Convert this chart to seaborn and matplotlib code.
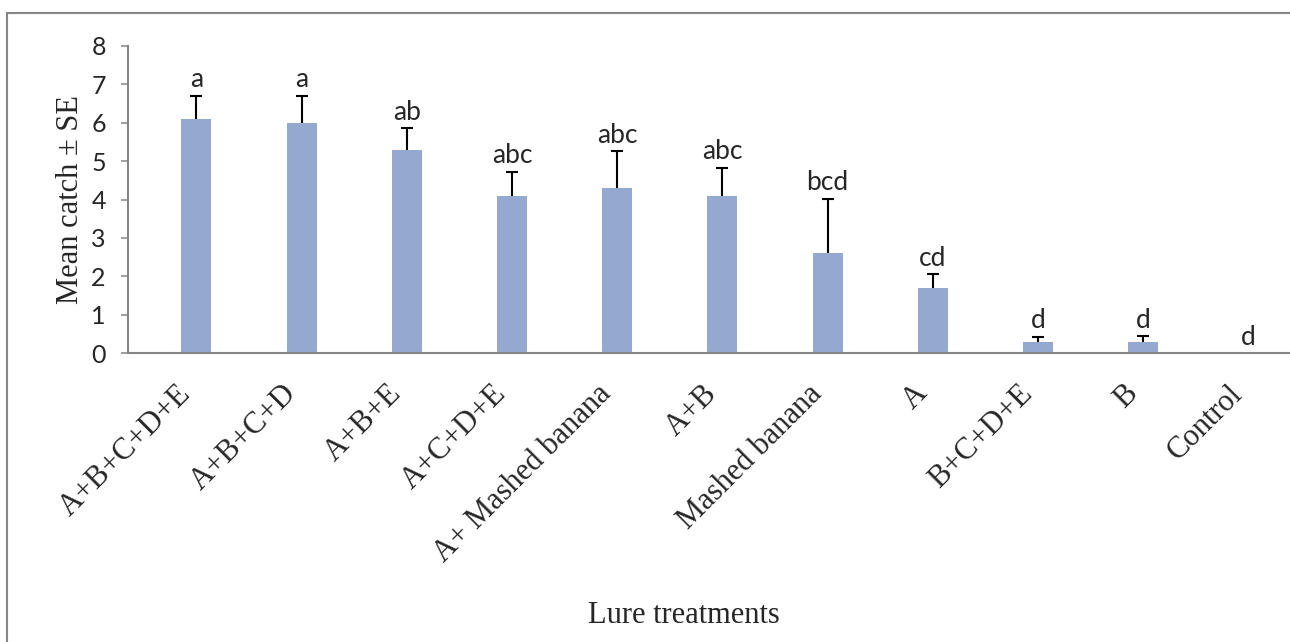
import numpy as np
import pandas as pd
import matplotlib
matplotlib.use("Agg")
import matplotlib.pyplot as plt
import matplotlib.transforms as mtransforms
from matplotlib.lines import Line2D
import seaborn as sns

# Lure treatments and trap catches (mean and standard error)
treatments = ["A+B+C+D+E", "A+B+C+D", "A+B+E", "A+C+D+E", "A+ Mashed banana",
              "A+B", "Mashed banana", "A", "B+C+D+E", "B", "Control"]
mean_catch = [6.1, 6.0, 5.3, 4.1, 4.3, 4.1, 2.6, 1.7, 0.3, 0.3, 0.0]
se_catch = [0.6, 0.7, 0.55, 0.62, 0.95, 0.72, 1.42, 0.35, 0.13, 0.15, 0.0]
letters = ["a", "a", "ab", "abc", "abc", "abc", "bcd", "cd", "d", "d", "d"]
y_ticks = [0, 1, 2, 3, 4, 5, 6, 7, 8]

sns.set_style("white")
plt.rcParams["font.family"] = ["Liberation Serif", "DejaVu Serif"]
SANS = ["Lato", "DejaVu Sans"]
GREY = "#868686"
BAR = "#95A9D0"

fig = plt.figure(figsize=(12.9, 6.42), dpi=100)
ax = fig.add_axes([128 / 1290, 1 - 353.3 / 642, 1162 / 1290, 307.6 / 642])

df = pd.DataFrame({"treatment": treatments, "mean": mean_catch})
sns.barplot(data=df, x="treatment", y="mean", color=BAR, saturation=1,
            width=0.285, errorbar=None, linewidth=0, ax=ax)

# upper standard-error whiskers only: stem plus a single top cap
pos = np.arange(len(treatments))
means = np.array(mean_catch)
ses = np.array(se_catch)
has_err = ses > 0
ax.errorbar(pos[has_err], means[has_err],
            yerr=[np.zeros(has_err.sum()), ses[has_err]],
            fmt="none", ecolor="black", elinewidth=1.5, capsize=0, zorder=3)
ax.plot(pos[has_err], (means + ses)[has_err], linestyle="none", marker="_",
        markersize=8, markeredgewidth=1.5, color="black", zorder=3)

# significance letters
for i, (m, s, lab) in enumerate(zip(mean_catch, se_catch, letters)):
    ax.annotate(lab, (i, m + s), xytext=(0, 2.5), textcoords="offset points",
                ha="center", va="bottom", fontsize=19, family=SANS)

ax.set_xlim(-0.651, -0.651 + 1162 / 105.2)
ax.set_ylim(0, 8)
ax.set_yticks(y_ticks)
ax.set_yticklabels([str(t) for t in y_ticks], family=SANS, fontsize=18)

for side in ("top", "right"):
    ax.spines[side].set_visible(False)
for side in ("left", "bottom"):
    ax.spines[side].set_color(GREY)
    ax.spines[side].set_linewidth(1.5)

ax.tick_params(axis="y", left=True, length=5, width=1.1, color=GREY, pad=11)
ax.tick_params(axis="x", bottom=False, length=0, pad=26)

ax.set_xticks(pos)
ax.set_xticklabels(treatments, rotation=45, ha="right", va="center",
                   rotation_mode="anchor", fontsize=22)
shift = mtransforms.ScaledTranslation(-10 / 100, 0, fig.dpi_scale_trans)
for lbl in ax.get_xticklabels():
    lbl.set_transform(lbl.get_transform() + shift)

ax.set_xlabel("Lure treatments", fontsize=22)
ax.xaxis.set_label_coords(556 / 1162, -0.805)
ax.set_ylabel("Mean catch \u00b1 SE", fontsize=22)
ax.yaxis.set_label_coords(-43 / 1162, 0.5)

# chart-area border (left and top edges)
x0 = 7 / 1290
y0 = 1 - 13 / 642
fig.add_artist(Line2D([x0, x0], [0, y0], color=GREY, lw=1.5, transform=fig.transFigure))
fig.add_artist(Line2D([x0, 1], [y0, y0], color=GREY, lw=1.5, transform=fig.transFigure))

fig.savefig("out.png", dpi=100)
